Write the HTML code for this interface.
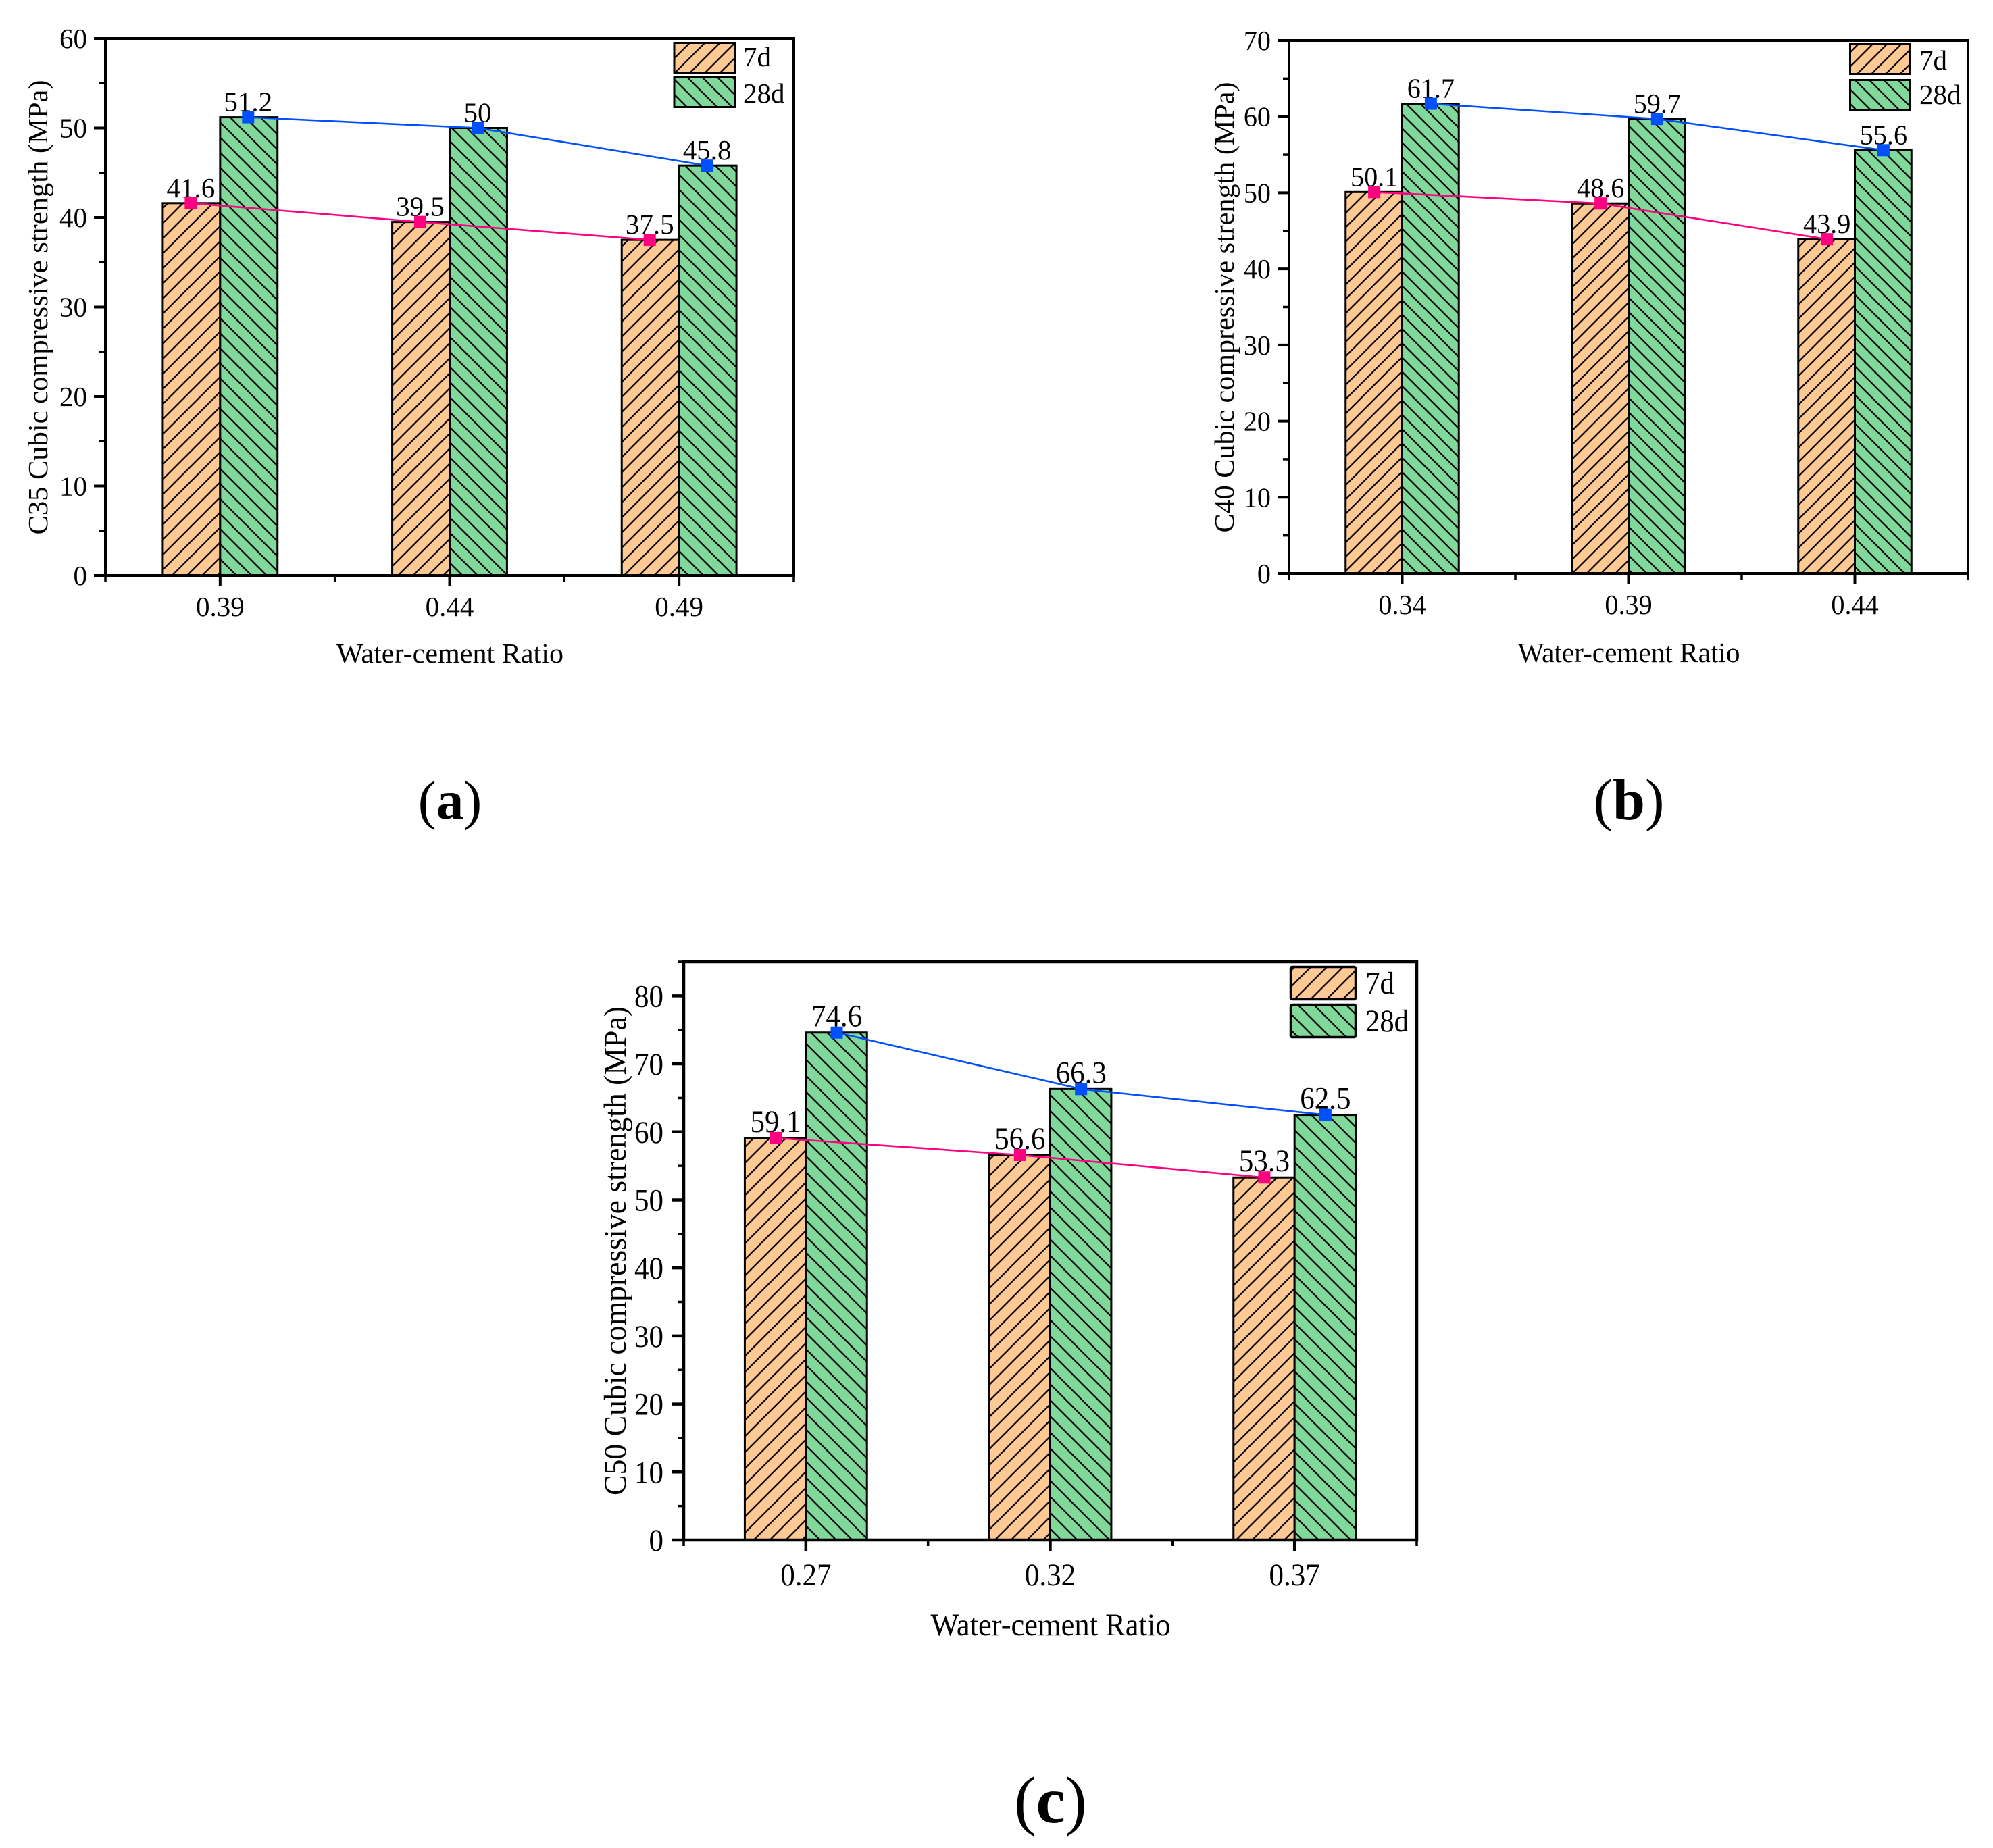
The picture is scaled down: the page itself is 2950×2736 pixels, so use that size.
<!DOCTYPE html>
<html lang="en">
<head>
<meta charset="utf-8">
<title>Cubic compressive strength charts</title>
<style>
html,body{margin:0;padding:0;background:#fff;width:2950px;height:2736px;overflow:hidden}
svg{display:block}
text{font-family:"Liberation Serif","Noto Serif CJK SC",serif;fill:#000}
</style>
</head>
<body>
<svg id="figure" xmlns="http://www.w3.org/2000/svg" width="2950" height="2736" viewBox="0 0 2950 2736">
  <defs>
    <pattern id="hatch-a-7d" patternUnits="userSpaceOnUse" width="22.3" height="22.3" patternTransform="translate(14 0)">
      <rect width="22.3" height="22.3" fill="#FFC994"/>
      <path d="M-2,2 L2,-2 M0,22.3 L22.3,0 M20.3,24.3 L24.3,20.3" stroke="#000" stroke-width="2.2" fill="none"/>
    </pattern>
    <pattern id="hatch-a-28d" patternUnits="userSpaceOnUse" width="22.3" height="22.3" patternTransform="translate(10.9 0)">
      <rect width="22.3" height="22.3" fill="#80D99B"/>
      <path d="M-2,20.3 L2,24.3 M0,0 L22.3,22.3 M20.3,-2 L24.3,2" stroke="#000" stroke-width="2.2" fill="none"/>
    </pattern>
    <pattern id="hatch-b-7d" patternUnits="userSpaceOnUse" width="21.2" height="21.2" patternTransform="translate(17.6 0)">
      <rect width="21.2" height="21.2" fill="#FFC994"/>
      <path d="M-2,2 L2,-2 M0,21.2 L21.2,0 M19.2,23.2 L23.2,19.2" stroke="#000" stroke-width="2.2" fill="none"/>
    </pattern>
    <pattern id="hatch-b-28d" patternUnits="userSpaceOnUse" width="21.2" height="21.2" patternTransform="translate(19.7 0)">
      <rect width="21.2" height="21.2" fill="#80D99B"/>
      <path d="M-2,19.2 L2,23.2 M0,0 L21.2,21.2 M19.2,-2 L23.2,2" stroke="#000" stroke-width="2.2" fill="none"/>
    </pattern>
    <pattern id="hatch-c-7d" patternUnits="userSpaceOnUse" width="23.8" height="23.8" patternTransform="translate(16 0)">
      <rect width="23.8" height="23.8" fill="#FFC994"/>
      <path d="M-2,2 L2,-2 M0,23.8 L23.8,0 M21.8,25.8 L25.8,21.8" stroke="#000" stroke-width="2.2" fill="none"/>
    </pattern>
    <pattern id="hatch-c-28d" patternUnits="userSpaceOnUse" width="23.8" height="23.8" patternTransform="translate(5 0)">
      <rect width="23.8" height="23.8" fill="#80D99B"/>
      <path d="M-2,21.8 L2,25.8 M0,0 L23.8,23.8 M21.8,-2 L25.8,2" stroke="#000" stroke-width="2.2" fill="none"/>
    </pattern>
  </defs>

  <g id="chart-a"></g>
  <g id="chart-b"></g>
  <g id="chart-c"></g>

  <g>
    <text transform="translate(70 455) rotate(-90)" text-anchor="middle" font-size="41" textLength="673" lengthAdjust="spacingAndGlyphs">C35 Cubic compressive strength (MPa)</text>
    <text x="666" y="981" text-anchor="middle" font-size="41" textLength="336" lengthAdjust="spacingAndGlyphs">Water-cement Ratio</text>
    <rect x="998" y="63.5" width="90" height="44" fill="url(#hatch-a-7d)" stroke="#000" stroke-width="3"/>
    <rect x="998" y="114.5" width="90" height="44" fill="url(#hatch-a-28d)" stroke="#000" stroke-width="3"/>
    <text x="1100" y="98" font-size="41">7d</text>
    <text x="1100" y="152" font-size="41">28d</text>
    <text x="666" y="1212" text-anchor="middle" font-size="81">(<tspan font-weight="bold">a</tspan>)</text>
  </g>

  <g>
    <text transform="translate(1826 455) rotate(-90)" text-anchor="middle" font-size="41" textLength="667" lengthAdjust="spacingAndGlyphs">C40 Cubic compressive strength (MPa)</text>
    <text x="2411" y="980" text-anchor="middle" font-size="41" textLength="329" lengthAdjust="spacingAndGlyphs">Water-cement Ratio</text>
    <rect x="2738.5" y="65.5" width="89" height="44" fill="url(#hatch-b-7d)" stroke="#000" stroke-width="3"/>
    <rect x="2738.5" y="118.5" width="89" height="44" fill="url(#hatch-b-28d)" stroke="#000" stroke-width="3"/>
    <text x="2841" y="103" font-size="41">7d</text>
    <text x="2841" y="154" font-size="41">28d</text>
    <text x="2411" y="1213" text-anchor="middle" font-size="86">(<tspan font-weight="bold">b</tspan>)</text>
  </g>

  <g>
    <text transform="translate(926 1852) rotate(-90)" text-anchor="middle" font-size="47" textLength="724" lengthAdjust="spacingAndGlyphs">C50 Cubic compressive strength (MPa)</text>
    <text x="1555" y="2421" text-anchor="middle" font-size="47" textLength="355" lengthAdjust="spacingAndGlyphs">Water-cement Ratio</text>
    <rect x="1910.5" y="1431.5" width="96" height="48" rx="2" fill="url(#hatch-c-7d)" stroke="#000" stroke-width="3.5"/>
    <rect x="1910.5" y="1487.5" width="96" height="48" rx="2" fill="url(#hatch-c-28d)" stroke="#000" stroke-width="3.5"/>
    <text x="2021" y="1471" font-size="47" textLength="43" lengthAdjust="spacingAndGlyphs">7d</text>
    <text x="2021" y="1527" font-size="47" textLength="64" lengthAdjust="spacingAndGlyphs">28d</text>
    <text x="1555" y="2698" text-anchor="middle" font-size="97">(<tspan font-weight="bold">c</tspan>)</text>
  </g>
</svg>

<script>
// Chart (a) data
const aCategories = ['0.39', '0.44', '0.49'];
const a7d = [41.6, 39.5, 37.5];
const a28d = [51.2, 50, 45.8];
const aYTicks = [0, 10, 20, 30, 40, 50, 60];
const aYMinor = [5, 15, 25, 35, 45, 55];
const aYMax = [60];

// Chart (b) data
const bCategories = ['0.34', '0.39', '0.44'];
const b7d = [50.1, 48.6, 43.9];
const b28d = [61.7, 59.7, 55.6];
const bYTicks = [0, 10, 20, 30, 40, 50, 60, 70];
const bYMinor = [5, 15, 25, 35, 45, 55, 65];
const bYMax = [70];

// Chart (c) data
const cCategories = ['0.27', '0.32', '0.37'];
const c7d = [59.1, 56.6, 53.3];
const c28d = [74.6, 66.3, 62.5];
const cYTicks = [0, 10, 20, 30, 40, 50, 60, 70, 80];
const cYMinor = [5, 15, 25, 35, 45, 55, 65, 75, 85];
const cYMax = [85];

const SVGNS = 'http://www.w3.org/2000/svg';

function make(tag, parent, attrs) {
  const node = document.createElementNS(SVGNS, tag);
  for (const key in attrs) node.setAttribute(key, attrs[key]);
  parent.appendChild(node);
  return node;
}

function label(parent, x, y, str, anchor, box) {
  const node = make('text', parent, {
    transform: 'translate(' + x + ' ' + y + ') scale(' + box.textScaleX + ' 1)',
    'text-anchor': anchor,
    'font-size': box.fontSize
  });
  node.textContent = str;
  return node;
}

function drawChart(id, box, categories, series7d, series28d, yTicks, yMinor, yMax) {
  const root = document.getElementById(id);
  const yScale = function (v) { return box.bottom - (v / yMax[0]) * (box.bottom - box.top); };
  const gap = (box.right - box.left) / categories.length;
  const xScale = function (i) { return box.left + (i + 0.5) * gap; };
  const barWidth = gap / 4;

  // bars
  categories.forEach(function (cat, i) {
    const x0 = xScale(i);
    const bar7 = make('rect', root, {
      x: x0 - barWidth, y: yScale(series7d[i]), width: barWidth,
      height: box.bottom - yScale(series7d[i]),
      fill: 'url(#' + box.hatch7 + ')', stroke: '#000', 'stroke-width': box.barStroke
    });
    
    
    const bar28 = make('rect', root, {
      x: x0, y: yScale(series28d[i]), width: barWidth,
      height: box.bottom - yScale(series28d[i]),
      fill: 'url(#' + box.hatch28 + ')', stroke: '#000', 'stroke-width': box.barStroke
    });
    
    
  });

  // frame
  const frame = make('path', root, {
    d: 'M' + box.left + ',' + box.top + ' H' + box.right + ' V' + box.bottom + ' H' + box.left + ' Z',
    fill: 'none', stroke: '#000', 'stroke-width': box.axisWidth
  });
  
  

  // y ticks
  yTicks.forEach(function (v) {
    const y = yScale(v);
    const tick = make('line', root, { x1: box.left - 17, x2: box.left, y1: y, y2: y, stroke: '#000', 'stroke-width': box.axisWidth });
    
    
    const text = label(root, box.yLabelX, y + box.yLabelDy, String(v), 'end', box);
    
    
  });
  yMinor.forEach(function (v) {
    const y = yScale(v);
    const tick = make('line', root, { x1: box.left - 9, x2: box.left, y1: y, y2: y, stroke: '#000', 'stroke-width': 3.5 });
    
    
  });

  // x ticks
  categories.forEach(function (cat, i) {
    const x = xScale(i);
    const tick = make('line', root, { x1: x, x2: x, y1: box.bottom, y2: box.bottom + 16, stroke: '#000', 'stroke-width': box.axisWidth });
    
    
    const text = label(root, x, box.xLabelY, cat, 'middle', box);
    
    
  });
  for (let i = 0; i <= categories.length; i++) {
    const x = box.left + i * gap;
    const tick = make('line', root, { x1: x, x2: x, y1: box.bottom, y2: box.bottom + 9, stroke: '#000', 'stroke-width': 3.5 });
    
    
  }

  // value labels, trend lines and markers
  const seriesList = [
    { key: '7d', values: series7d, color: '#FF0080', dx: -barWidth / 2 + box.markerDx },
    { key: '28d', values: series28d, color: '#0050FF', dx: barWidth / 2 + box.markerDx }
  ];
  seriesList.forEach(function (s) {
    s.values.forEach(function (v, i) {
      const text = label(root, xScale(i) + s.dx, yScale(v) - 9, String(v), 'middle', box);
      
      
    });
  });
  seriesList.forEach(function (s) {
    const pts = s.values.map(function (v, i) { return (xScale(i) + s.dx) + ',' + yScale(v); }).join(' ');
    const line = make('polyline', root, { points: pts, fill: 'none', stroke: s.color, 'stroke-width': 2.6 });
    
    
    s.values.forEach(function (v, i) {
      const dot = make('rect', root, {
        x: xScale(i) + s.dx - 9, y: yScale(v) - 9, width: 18, height: 18, fill: s.color
      });
      
      
    });
  });
}

drawChart('chart-a',
  { left: 156, right: 1175, top: 57, bottom: 852, axisWidth: 4, barStroke: 3, fontSize: 41, textScaleX: 1, markerDx: -1,
    yLabelX: 129, yLabelDy: 14, xLabelY: 912, hatch7: 'hatch-a-7d', hatch28: 'hatch-a-28d' },
  aCategories, a7d, a28d, aYTicks, aYMinor, aYMax);

drawChart('chart-b',
  { left: 1908, right: 2913, top: 60, bottom: 849, axisWidth: 4, barStroke: 3, fontSize: 41, textScaleX: 0.98, markerDx: 0.5,
    yLabelX: 1881, yLabelDy: 14, xLabelY: 909, hatch7: 'hatch-b-7d', hatch28: 'hatch-b-28d' },
  bCategories, b7d, b28d, bYTicks, bYMinor, bYMax);

drawChart('chart-c',
  { left: 1012, right: 2097, top: 1424, bottom: 2280, axisWidth: 4.5, barStroke: 3, fontSize: 47, textScaleX: 0.915, markerDx: 0.5,
    yLabelX: 982, yLabelDy: 16, xLabelY: 2347, hatch7: 'hatch-c-7d', hatch28: 'hatch-c-28d' },
  cCategories, c7d, c28d, cYTicks, cYMinor, cYMax);
</script>
</body>
</html>
